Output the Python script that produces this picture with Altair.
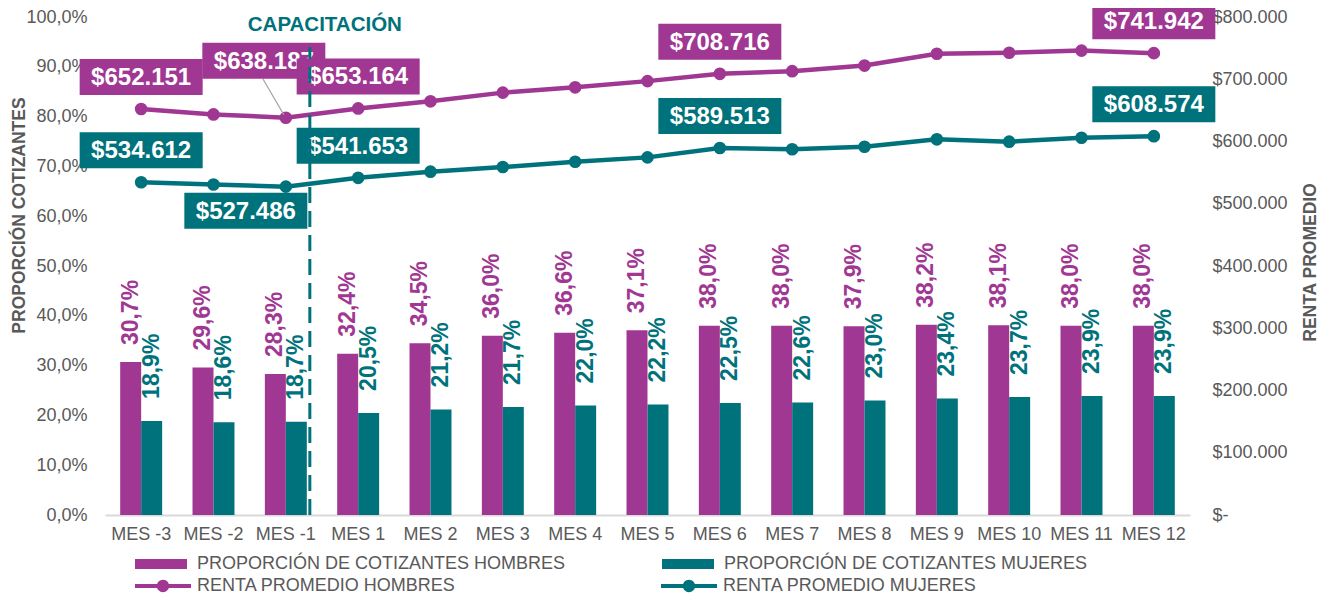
import altair as alt
import pandas as pd

# ---------------- data ----------------
cats = ["MES -3", "MES -2", "MES -1", "MES 1", "MES 2", "MES 3", "MES 4", "MES 5",
        "MES 6", "MES 7", "MES 8", "MES 9", "MES 10", "MES 11", "MES 12"]
prop_hombres = [30.7, 29.6, 28.3, 32.4, 34.5, 36.0, 36.6, 37.1, 38.0, 38.0, 37.9, 38.2, 38.1, 38.0, 38.0]
prop_mujeres = [18.9, 18.6, 18.7, 20.5, 21.2, 21.7, 22.0, 22.2, 22.5, 22.6, 23.0, 23.4, 23.7, 23.9, 23.9]
renta_hombres = [652151, 643500, 638187, 653164, 664500, 678500, 687000, 697000,
                 708716, 713000, 722000, 741000, 742500, 746000, 741942]
renta_mujeres = [534612, 531000, 527486, 541653, 551500, 559000, 567500, 574500,
                 589513, 587500, 591500, 603500, 599700, 606000, 608574]
meses_etiquetados = ["MES -3", "MES -1", "MES 1", "MES 6", "MES 12"]
bar_series = ["PROPORCIÓN DE COTIZANTES HOMBRES", "PROPORCIÓN DE COTIZANTES MUJERES"]
line_series = ["RENTA PROMEDIO HOMBRES", "RENTA PROMEDIO MUJERES"]
evento_mes = ["MES -1"]
evento_texto = ["CAPACITACIÓN"]
evento_rango = [0, 94]

# ---------------- styles ----------------
PURPLE = "#9F3793"
TEAL = "#00727B"
GREY = "#595959"
FONT = "Liberation Sans"

bars_df = pd.DataFrame({
    "mes": cats * 2,
    "serie": [bar_series[0]] * len(cats) + [bar_series[1]] * len(cats),
    "valor": prop_hombres + prop_mujeres,
})
bars_df["etiqueta"] = bars_df["valor"].map(lambda v: f"{v:.1f}".replace(".", ",") + "%")

lines_df = pd.DataFrame({
    "mes": cats * 2,
    "serie": [line_series[0]] * len(cats) + [line_series[1]] * len(cats),
    "valor": renta_hombres + renta_mujeres,
})
lines_df["etiqueta"] = lines_df["valor"].map(lambda v: "$" + f"{v:,}".replace(",", "."))
labels_df = lines_df[lines_df["mes"].isin(meses_etiquetados)].copy()

ann_df = pd.DataFrame({"mes": evento_mes, "inicio": [evento_rango[0]],
                       "fin": [evento_rango[1]], "texto": evento_texto})

x_scale = alt.Scale(domain=cats, paddingInner=0.42, paddingOuter=0.21)
x_axis = alt.Axis(title=None, labelAngle=0, labelFont=FONT, labelFontSize=18, labelColor=GREY,
                  ticks=False, domainColor="#D9D9D9", domainWidth=2, labelPadding=10, grid=False)


def X():
    return alt.X("mes:N", scale=x_scale, sort=cats, axis=x_axis, title=None)


bar_color = alt.Scale(domain=bar_series, range=[PURPLE, TEAL])
line_color = alt.Scale(domain=line_series, range=[PURPLE, TEAL])

rect_sym = "M-1,-0.19L1,-0.19L1,0.19L-1,0.19Z"
line_sym = ("M-1,-0.075L1,-0.075L1,0.075L-1,0.075Z "
            "M-0.22,0A0.22,0.22,0,1,1,0.22,0A0.22,0.22,0,1,1,-0.22,0Z")

# ---------------- left: bars ----------------
left_axis = alt.Axis(values=list(range(0, 101, 10)),
                     labelExpr="replace(format(datum.value,'.1f'),'.',',') + '%'",
                     grid=False, domain=False, ticks=False, labelPadding=18,
                     labelFont=FONT, labelFontSize=18, labelColor=GREY,
                     title="PROPORCIÓN COTIZANTES", titleFont=FONT, titleFontSize=17.5,
                     titleFontWeight="bold", titleColor=GREY, titleX=-86, titleY=198,
                     titleBaseline="middle", titleAngle=270)


def YL():
    return alt.Y("valor:Q", scale=alt.Scale(domain=[0, 100], nice=False), axis=left_axis, title="PROPORCIÓN COTIZANTES")


xoff = alt.XOffset("serie:N", scale=alt.Scale(domain=bar_series, paddingInner=0, paddingOuter=0))

bars = alt.Chart(bars_df).mark_bar().encode(
    x=X(), xOffset=xoff, y=YL(),
    color=alt.Color("serie:N", scale=bar_color, title=None,
                    legend=alt.Legend(orient="none", legendX=30, legendY=521, direction="horizontal",
                                      columns=2, symbolType=rect_sym, symbolSize=2704,
                                      symbolStrokeWidth=0, labelFont=FONT, labelFontSize=18,
                                      labelColor=GREY, labelLimit=800, columnPadding=96,
                                      labelOffset=10, padding=0, title=None)),
)


def bar_labels(serie, dx):
    return alt.Chart(bars_df).transform_filter(alt.datum.serie == serie).mark_text(
        angle=270, align="left", baseline="middle", dx=dx, font=FONT, fontSize=23, fontWeight="bold"
    ).encode(x=X(), xOffset=xoff, y=YL(), text="etiqueta:N",
             color=alt.Color("serie:N", scale=bar_color, legend=None))


left = alt.layer(bars, bar_labels(bar_series[0], 17), bar_labels(bar_series[1], 22))

# ---------------- right: lines ----------------
right_axis = alt.Axis(orient="right", values=list(range(0, 800001, 100000)),
                      labelExpr="datum.value == 0 ? '$-' : '$' + replace(format(datum.value, ',.0f'), ',', '.')",
                      grid=False, domain=False, ticks=False, labelPadding=22,
                      labelFont=FONT, labelFontSize=18, labelColor=GREY,
                      title="RENTA PROMEDIO", titleFont=FONT, titleFontSize=17.5,
                      titleFontWeight="bold", titleColor=GREY, titleAngle=270,
                      titleX=120, titleY=245, titleBaseline="middle")


def YR():
    return alt.Y("valor:Q", scale=alt.Scale(domain=[0, 800000], nice=False), axis=right_axis, title="RENTA PROMEDIO")


points = alt.Chart(lines_df).mark_point(filled=True, size=160, opacity=1).encode(
    x=X(), y=YR(),
    color=alt.Color("serie:N", scale=line_color, title=None,
                    legend=alt.Legend(orient="none", legendX=30, legendY=541, direction="horizontal",
                                      columns=2, symbolType=line_sym, symbolSize=3136,
                                      symbolStrokeWidth=0, labelFont=FONT, labelFontSize=18,
                                      labelColor=GREY, labelLimit=800, columnPadding=205,
                                      labelOffset=6, padding=0, title=None)),
)
lines = alt.Chart(lines_df).mark_line(strokeWidth=4.5).encode(
    x=X(), y=YR(),
    color=alt.Color("serie:N", scale=line_color, legend=None),
)

box_path = "M-61.5,-18L61.5,-18L61.5,18L-61.5,18Z"


def box_layers(filt, dx, dy):
    base = alt.Chart(labels_df).transform_filter(filt)
    box = base.mark_point(shape=box_path, size=4, filled=True, opacity=1, strokeWidth=0,
                          xOffset=dx, yOffset=dy).encode(
        x=X(), y=YR(), color=alt.Color("serie:N", scale=line_color, legend=None))
    txt = base.mark_text(dx=dx, dy=dy + 1, font=FONT, fontSize=24, fontWeight="bold",
                         color="white", align="center", baseline="middle").encode(
        x=X(), y=YR(), text="etiqueta:N")
    return [box, txt]


is_h_m1 = (alt.datum.mes == "MES -1") & (alt.datum.serie == line_series[0])
is_m_m1 = (alt.datum.mes == "MES -1") & (alt.datum.serie == line_series[1])
is_default = ~((alt.datum.mes == "MES -1"))

leader = alt.Chart(labels_df).transform_filter(is_h_m1).mark_point(
    shape="M-2,-3L-23,-39", size=4, filled=False, opacity=1, color="#A6A6A6", strokeWidth=1.3
).encode(x=X(), y=YR())

right = alt.layer(points, lines, leader,
                  *box_layers(is_h_m1, -22, -57),
                  *box_layers(is_m_m1, -40, 24),
                  *box_layers(is_default, 0, -32))

# ---------------- annotation ----------------
ann_scale = alt.Scale(domain=[0, 100], nice=False)
rule = alt.Chart(ann_df).mark_rule(color=TEAL, strokeWidth=3, strokeDash=[16, 8], xOffset=24).encode(
    x=X(), y=alt.Y("inicio:Q", scale=ann_scale, axis=None), y2="fin:Q")
ann_text = alt.Chart(ann_df).mark_text(color=TEAL, font=FONT, fontSize=20.5, fontWeight="bold",
                                       dx=39, dy=-22, baseline="middle", align="center").encode(
    x=X(), y=alt.Y("fin:Q", scale=ann_scale, axis=None), text="texto:N")
annot = alt.layer(rule, ann_text)

chart = alt.layer(left, right, annot).resolve_scale(
    y="independent", color="independent"
).properties(
    width=1085, height=498,
    autosize=alt.AutoSizeParams(type="none"),
    padding={"left": 97, "top": 9, "right": 132, "bottom": 83},
).configure_view(stroke=None)

chart.save("out.html", embed_options={"renderer": "svg", "actions": False})
